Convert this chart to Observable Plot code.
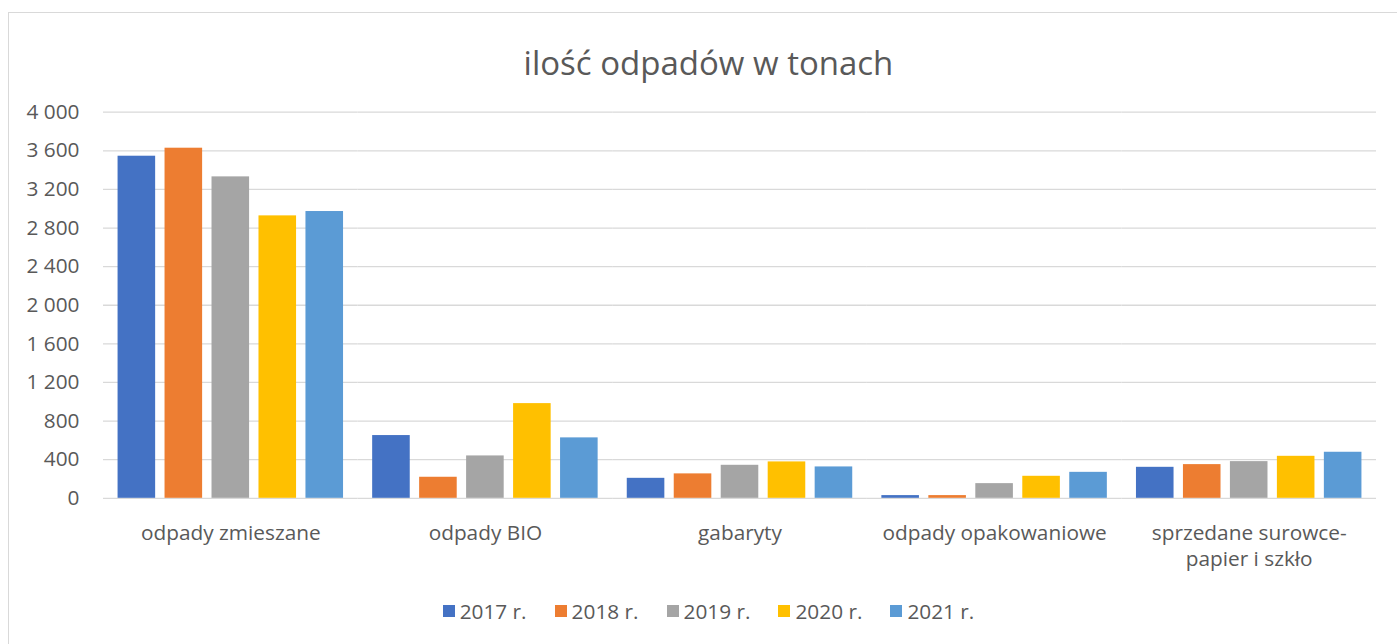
<!DOCTYPE html>
<html>
<head>
<meta charset="utf-8">
<script src="https://cdn.jsdelivr.net/npm/d3@7"></script>
<script src="https://cdn.jsdelivr.net/npm/@observablehq/plot@0.6"></script>
<style>
  html, body { margin: 0; padding: 0; background: #fff; }
  body { width: 1397px; height: 644px; position: relative; overflow: hidden; font-family: "Open Sans", sans-serif; color: #595959; }
  #frame { position: absolute; left: 8px; top: 12px; width: 1400px; height: 650px; border: 1px solid #d9d9d9; box-sizing: border-box; }
  #title { position: absolute; left: 0; width: 1417px; top: 46px; text-align: center; font-size: 33px; line-height: 1; white-space: nowrap; }
  #chart { position: absolute; left: 0; top: 90px; }
  #legend { position: absolute; left: 0; width: 1417px; top: 601px; display: flex; justify-content: center; font-size: 20.8px; line-height: 1; }
  .item { display: flex; align-items: center; margin: 0 14px; }
  .sw { width: 12px; height: 12px; margin-right: 5px; }
</style>
</head>
<body>
<div id="frame"></div>
<div id="title"></div>
<div id="chart"></div>
<div id="legend"></div>
<script>
const titleText = "ilość odpadów w tonach";
const categories = ["odpady zmieszane", "odpady BIO", "gabaryty", "odpady opakowaniowe", "sprzedane surowce-\npapier i szkło"];
const years = ["2017 r.", "2018 r.", "2019 r.", "2020 r.", "2021 r."];
const colors = ["#4472C4", "#ED7D31", "#A5A5A5", "#FFC000", "#5B9BD5"];
const v2017 = [3544, 650, 207, 28, 321];
const v2018 = [3627, 218, 253, 28, 349];
const v2019 = [3330, 439, 342, 152, 380];
const v2020 = [2926, 981, 377, 228, 435];
const v2021 = [2971, 626, 325, 269, 477];
const yTicks = [0, 400, 800, 1200, 1600, 2000, 2400, 2800, 3200, 3600, 4000];

const series = [v2017, v2018, v2019, v2020, v2021];
const data = [];
categories.forEach((c, i) => years.forEach((y, j) => data.push({cat: c, year: y, value: series[j][i]})));

const loc = d3.formatLocale({decimal: ",", thousands: "\u00a0", grouping: [3], currency: ["", ""]});
const fmt = loc.format(",d");

document.getElementById("title").textContent = titleText;

const chart = Plot.plot({
  width: 1397,
  height: 500,
  marginTop: 21.7,
  marginBottom: 92.2,
  marginLeft: 103,
  marginRight: 21,
  style: {fontFamily: "Open Sans", fontSize: "20.8px", color: "#595959", background: "transparent"},
  fx: {domain: categories, padding: 0, round: false, axis: null, label: null},
  x: {domain: years, paddingInner: 0.2, paddingOuter: 0.31, round: false, axis: null},
  y: {domain: [0, 4000], axis: null},
  color: {domain: years, range: colors},
  marks: [
    Plot.gridY(yTicks, {stroke: "#d9d9d9", strokeOpacity: 1, strokeWidth: 1.3}),
    Plot.barY(data, {fx: "cat", x: "year", y: "value", fill: "year"}),
    Plot.axisY(yTicks, {anchor: "left", tickSize: 0, tickPadding: 24, tickFormat: fmt, label: null, fontSize: 20.8, fill: "#595959"}),
    Plot.axisFx({anchor: "bottom", tickSize: 0, tickPadding: 23, label: null, fontSize: 20.8, lineHeight: 1.27, fill: "#595959"})
  ]
});
document.getElementById("chart").appendChild(chart);

const legend = document.getElementById("legend");
years.forEach((y, i) => {
  const it = document.createElement("div");
  it.className = "item";
  const sw = document.createElement("div");
  sw.className = "sw";
  sw.style.background = colors[i];
  const t = document.createElement("span");
  t.textContent = y;
  it.appendChild(sw);
  it.appendChild(t);
  legend.appendChild(it);
});
</script>
</body>
</html>
